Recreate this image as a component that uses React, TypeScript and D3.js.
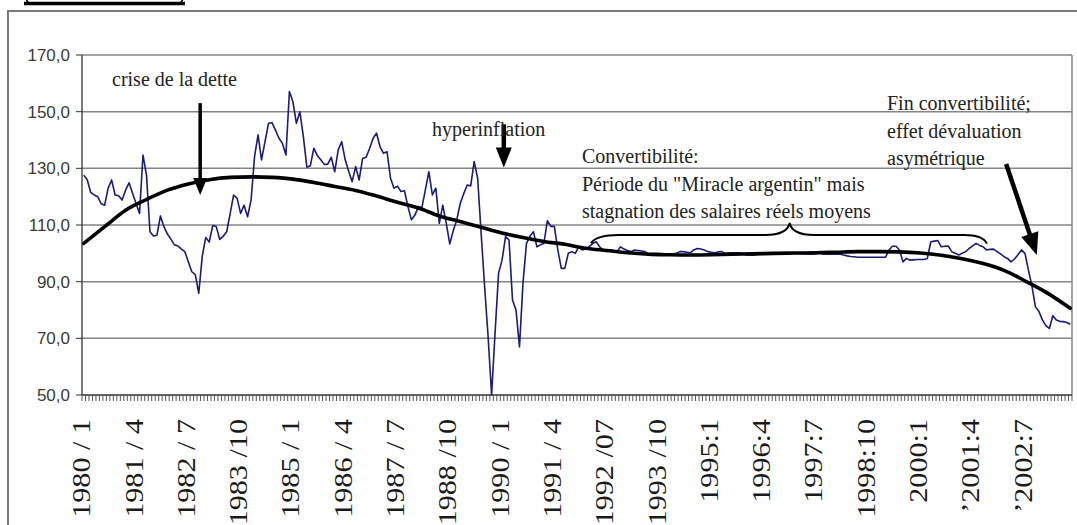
import * as d3 from "d3"

// salaire réel moyen, mensuel, 1980/1 .. 2003/8
const startYear = 1980
const wages = [
  127.6, 126, 121.5, 120.6, 120, 117.5, 117, 123, 125.9, 120.6, 120.3, 118.8,
  122.3, 124.9, 121.2, 117.6, 114.1, 134.7, 127.6, 107.6, 106.1, 106.4, 113.2, 109.4,
  106.8, 105, 103, 102.6, 101.5, 100.6, 97, 93.5, 92.5, 85.9, 99, 105.6,
  104, 109.8, 109.5, 104.9, 106, 107.6, 114, 120.6, 119.4, 114.1, 117, 112.9,
  118.8, 134.1, 141.8, 133, 139.4, 145.9, 146.1, 143.5, 140.6, 138.8, 134.7, 157.1,
  153.5, 145.9, 150, 141.2, 130.4, 130.9, 137.1, 134.5, 133, 131.4, 131.5, 133.9,
  128.8, 136.5, 139.4, 133, 129, 125.3, 130.6, 125.9, 133.5, 133.9, 137, 140.6,
  142.4, 137.6, 135.3, 135.9, 126.5, 123, 123.7, 121.8, 122.1, 116.5, 111.8, 113.5,
  116.5, 116.1, 122.4, 128.8, 120.6, 123, 110.6, 117, 110.6, 103.3, 108, 111.8,
  117.6, 121, 124.1, 123.8, 132.4, 126.5, 107, 88.2, 70.6, 50, 72, 93,
  97.6, 105.9, 104.7, 83.5, 80, 67, 89.4, 103.5, 106, 107.6, 102.3, 103,
  103.5, 111.5, 109.5, 109.5, 101.2, 94.7, 94.7, 100, 100.6, 100, 102.3, 101.2,
  101.5, 102.3, 103.5, 104.1, 102.3, 101.2, 100.6, 101.2, 101, 100.6, 102.3, 101.5,
  101, 100.6, 101.2, 101, 100.8, 100.6, 99.8, 100, 100, 100, 99.9, 99.8,
  99.7, 99.8, 100, 100.6, 100.6, 100.4, 100.2, 101.2, 101.7, 101.5, 101.2, 100.6,
  100.4, 100.2, 100.5, 100.6, 100, 100.2, 100.2, 100.2, 100.2, 100, 99.4, 99.4,
  99.4, 99.6, 99.8, 99.8, 99.8, 99.8, 99.8, 100, 100, 100.1, 100.2, 100,
  100, 100, 100, 99.8, 99.8, 99.7, 99.8, 100, 99.8, 99.7, 99.7, 99.7,
  99.7, 99.7, 99.4, 99.1, 98.9, 98.8, 98.6, 98.6, 98.6, 98.6, 98.6, 98.6,
  98.6, 98.6, 98.6, 101.2, 102.5, 102.5, 101.2, 97, 98.2, 97.6, 97.7, 97.8,
  97.8, 97.8, 98.2, 104.1, 104.3, 104.5, 102.3, 102.5, 102.6, 100.6, 100, 99.4,
  100, 100.6, 101.7, 102.6, 103.5, 102.8, 102.3, 101.2, 101.4, 101.5, 100.6, 99.8,
  98.8, 98.2, 97, 98, 99.5, 101.2, 100, 94.1, 88.5, 81.2, 79.5, 76.5,
  74.5, 73.5, 78, 76.5, 76, 75.9, 75.6, 75,
]

// tendance (lissage), lue tous les 6 mois
const trendMonth = [
  0, 6, 12, 18, 24, 30, 36, 42, 48, 54, 60, 66, 72, 78, 84, 90, 96, 102, 108, 114, 120, 126, 132, 138,
  144, 150, 156, 162, 168, 174, 180, 186, 192, 198, 204, 210, 216, 222, 228, 234, 240, 246, 252, 258,
  264, 270, 276, 283,
]
const trendValue = [
  103.5, 109.4, 115.2, 119, 122.3, 124.5, 126, 126.8, 127, 126.8, 126.2, 125, 123.6, 122.2, 120.2, 118,
  116, 113.2, 111.2, 109.2, 107.2, 105.6, 104.2, 103.2, 101.8, 101, 100.2, 99.7, 99.5, 99.4, 99.5, 99.7,
  99.8, 100, 100.1, 100.2, 100.4, 100.6, 100.6, 100.5, 100.1, 99.3, 98.1, 96.4, 94, 90.3, 86.3, 80.6,
]

const yTicks = [50, 70, 90, 110, 130, 150, 170]
const tickLabels = [
  "1980 / 1", "1981 / 4", "1982 / 7", "1983 /10", "1985 / 1", "1986 / 4", "1987 / 7", "1988 /10",
  "1990 / 1", "1991 / 4", "1992 /07", "1993 /10", "1995:1", "1996:4", "1997:7", "1998:10",
  "2000:1", "\u20192001:4", "\u20192002:7",
]

const notes: [number, number, string][] = [
  [112, 86, "crise de la dette"],
  [432, 136, "hyperinflation"],
  [582, 163, "Convertibilité:"],
  [582, 191, "Période du \"Miracle argentin\" mais"],
  [582, 218, "stagnation des salaires réels moyens"],
  [887, 110, "Fin convertibilité;"],
  [887, 138, "effet dévaluation"],
  [887, 165, "asymétrique"],
]

const width = 1077
const height = 525
const left = 82
const right = 1072
const top = 55
const bottom = 395

export default function App() {
  const n = wages.length
  const months = d3.range(n).map((i) => `${startYear + Math.floor(i / 12)}/${(i % 12) + 1}`)
  const xi = d3.scaleLinear().domain([0, n]).range([left, right])
  const xm = (i: number) => xi(i + 0.5)
  const y = d3.scaleLinear().domain([50, 170]).range([bottom, top])

  const wageLine = d3.line<number>().x((d, i) => xm(i)).y((d) => y(d))
  const trendLine = d3
    .line<number>()
    .x((d, i) => xm(trendMonth[i]))
    .y((d) => y(d))
    .curve(d3.curveMonotoneX)

  const labelIdx = months.map((_, i) => i).filter((i) => i % 15 === 0)

  // accolade au-dessus de la période de convertibilité
  const p = (i: number, v: number) => `${xi(i)},${y(v)}`
  const brace =
    `M${p(146, 103.6)}Q${p(147.5, 106.5)} ${p(154, 106.5)}L${p(196, 106.5)}` +
    `Q${p(202.3, 106.5)} ${p(203, 110.7)}Q${p(203.7, 106.5)} ${p(210, 106.5)}` +
    `L${p(253, 106.5)}Q${p(258.5, 106.5)} ${p(259.6, 103.4)}`

  const arrow = (a: [number, number], b: [number, number], shaft: number, headW: number, headL: number) => {
    const x1 = xi(a[0]), y1 = y(a[1]), x2 = xi(b[0]), y2 = y(b[1])
    const len = Math.hypot(x2 - x1, y2 - y1)
    const ux = (x2 - x1) / len, uy = (y2 - y1) / len
    const bx = x2 - ux * headL, by = y2 - uy * headL
    return (
      <g>
        <line x1={x1} y1={y1} x2={bx + ux} y2={by + uy} stroke="#000" strokeWidth={shaft} />
        <path
          d={`M${x2},${y2}L${bx - (uy * headW) / 2},${by + (ux * headW) / 2}L${bx + (uy * headW) / 2},${by - (ux * headW) / 2}Z`}
          fill="#000"
        />
      </g>
    )
  }

  return (
    <svg width={width} height={height} style={{ position: "absolute", left: 0, top: 0, display: "block" }}>
      <rect width={width} height={height} fill="#fff" />

      {/* cadre extérieur + bas du titre coupé */}
      <path d={`M8,${height}V11H${width}`} fill="none" stroke="#7a7a7a" strokeWidth={2} />
      <line x1={24} x2={185} y1={3.5} y2={3.5} stroke="#000" strokeWidth={3.5} />
      <path d="M26,-2Q26.5,1.5 29.5,3.5M183,-2Q182.5,1.5 179.5,3.5" fill="none" stroke="#000" strokeWidth={1.6} />

      {/* grille */}
      {yTicks.filter((t) => t > 50).map((t) => (
        <line key={t} x1={left} x2={right} y1={y(t)} y2={y(t)} stroke="#858585" strokeWidth={1.5} />
      ))}
      <line x1={right} x2={right} y1={top} y2={bottom} stroke="#858585" strokeWidth={1.5} />

      {/* axe Y */}
      <line x1={left} x2={left} y1={top} y2={bottom} stroke="#333" strokeWidth={1.3} />
      {yTicks.map((t) => (
        <g key={t} transform={`translate(${left},${y(t)})`}>
          <line x1={-6} x2={0} stroke="#333" />
          <text x={-12} dy="0.35em" textAnchor="end" fontFamily="Liberation Sans" fontSize={17} fill="#3a3a3a">
            {t.toFixed(1).replace(".", ",")}
          </text>
        </g>
      ))}

      {/* axe X, graduations mensuelles */}
      <line x1={left} x2={right} y1={bottom} y2={bottom} stroke="#333" strokeWidth={1.3} />
      {d3.range(n + 1).map((k) => (
        <line key={k} x1={xi(k)} x2={xi(k)} y1={bottom} y2={bottom + 6} stroke="#444" strokeWidth={0.9} />
      ))}
      {labelIdx.map((d, i) => (
        <text
          key={d}
          transform={`translate(${xm(d) - 2},${bottom + 24}) rotate(-90) scale(1.16,1)`}
          textAnchor="end"
          dy="0.33em"
          fontFamily="Liberation Serif"
          fontSize={26}
          fill="#1a1a1a"
        >
          {tickLabels[i]}
        </text>
      ))}

      {/* séries */}
      <path d={wageLine(wages) ?? ""} fill="none" stroke="#1b1b78" strokeWidth={1.6} strokeLinejoin="round" />
      <path d={trendLine(trendValue) ?? ""} fill="none" stroke="#000" strokeWidth={3.6} strokeLinecap="round" />

      {/* annotations */}
      <path d={brace} fill="none" stroke="#000" strokeWidth={2} />
      {arrow([33.9, 153], [33.9, 120.6], 3.5, 14, 17)}
      {arrow([121, 145.5], [121, 130.3], 4.5, 16, 20)}
      {arrow([265.1, 131.5], [273.9, 99.4], 4.5, 18, 22)}
      {notes.map(([x, yy, s]) => (
        <text key={s} x={x} y={yy} fontFamily="Liberation Serif" fontSize={20} fill="#222">
          {s}
        </text>
      ))}
    </svg>
  )
}
